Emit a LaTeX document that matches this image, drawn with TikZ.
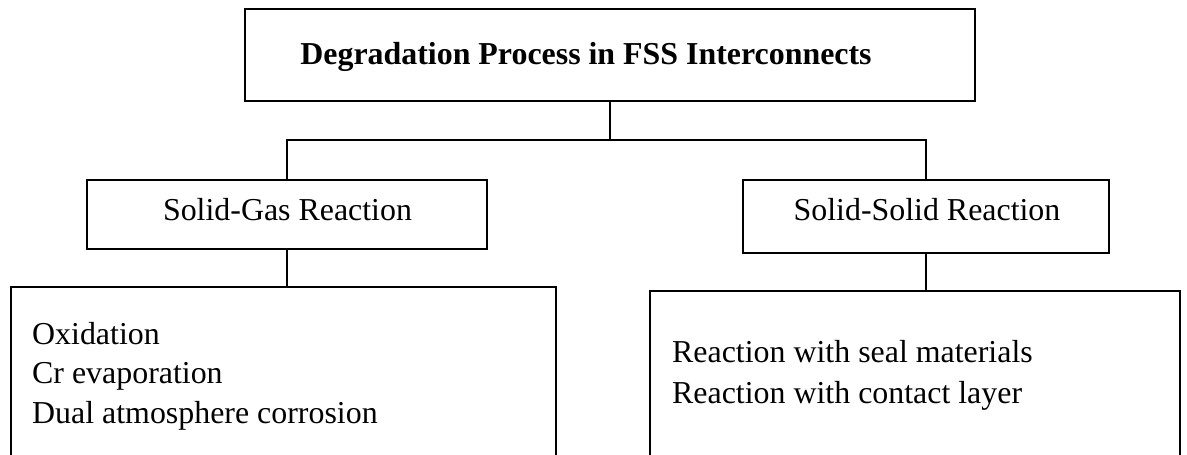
\documentclass[tikz,border=0pt]{standalone}
\usepackage{fontspec}
\setmainfont{Liberation Serif}
\begin{document}
\begin{tikzpicture}[x=1pt,y=-1pt,
  box/.style={draw, line width=2.4pt, inner sep=0pt},
  conn/.style={line width=2pt},
  txt/.style={font=\fontsize{31.9}{39.5}\selectfont, inner sep=0pt},
]
\useasboundingbox (0,0) rectangle (1187,455);
% boxes
\node[box, minimum width=730pt, minimum height=92pt] (top) at (610,55) {};
\node[box, minimum width=400pt, minimum height=69pt] (sg) at (287,214.5) {};
\node[box, minimum width=366pt, minimum height=73pt] (ss) at (926,216.5) {};
\node[box, minimum width=545pt, minimum height=233pt] (bl) at (283.5,403.5) {};
\node[box, minimum width=530pt, minimum height=229pt] (br) at (915,405.5) {};
% texts
\node[txt, anchor=base, font=\fontsize{31.9}{39.5}\selectfont\bfseries] (ttl) at (586,64) {Degradation Process in FSS Interconnects};
\node[txt, anchor=base] (sgt) at (287.5,220) {Solid-Gas Reaction};
\node[txt, anchor=base] (sst) at (927,220) {Solid-Solid Reaction};
\node[txt, anchor=base west] (l1) at (32,344) {Oxidation};
\node[txt, anchor=base west] (l2) at (32,383) {Cr evaporation};
\node[txt, anchor=base west] (l3) at (32,423) {Dual atmosphere corrosion};
\node[txt, anchor=base west] (r1) at (672,362) {Reaction with seal materials};
\node[txt, anchor=base west] (r2) at (672,403) {Reaction with contact layer};
% connectors
\coordinate (j) at (610,141);
\draw[conn] (top.south) -- (j);
\draw[conn] (sg.north) -- ++(0,-39) -| (ss.north);
\draw[conn] (sg.south) -- (sg.south |- bl.north);
\draw[conn] (ss.south) -- (ss.south |- br.north);
\end{tikzpicture}
\end{document}
